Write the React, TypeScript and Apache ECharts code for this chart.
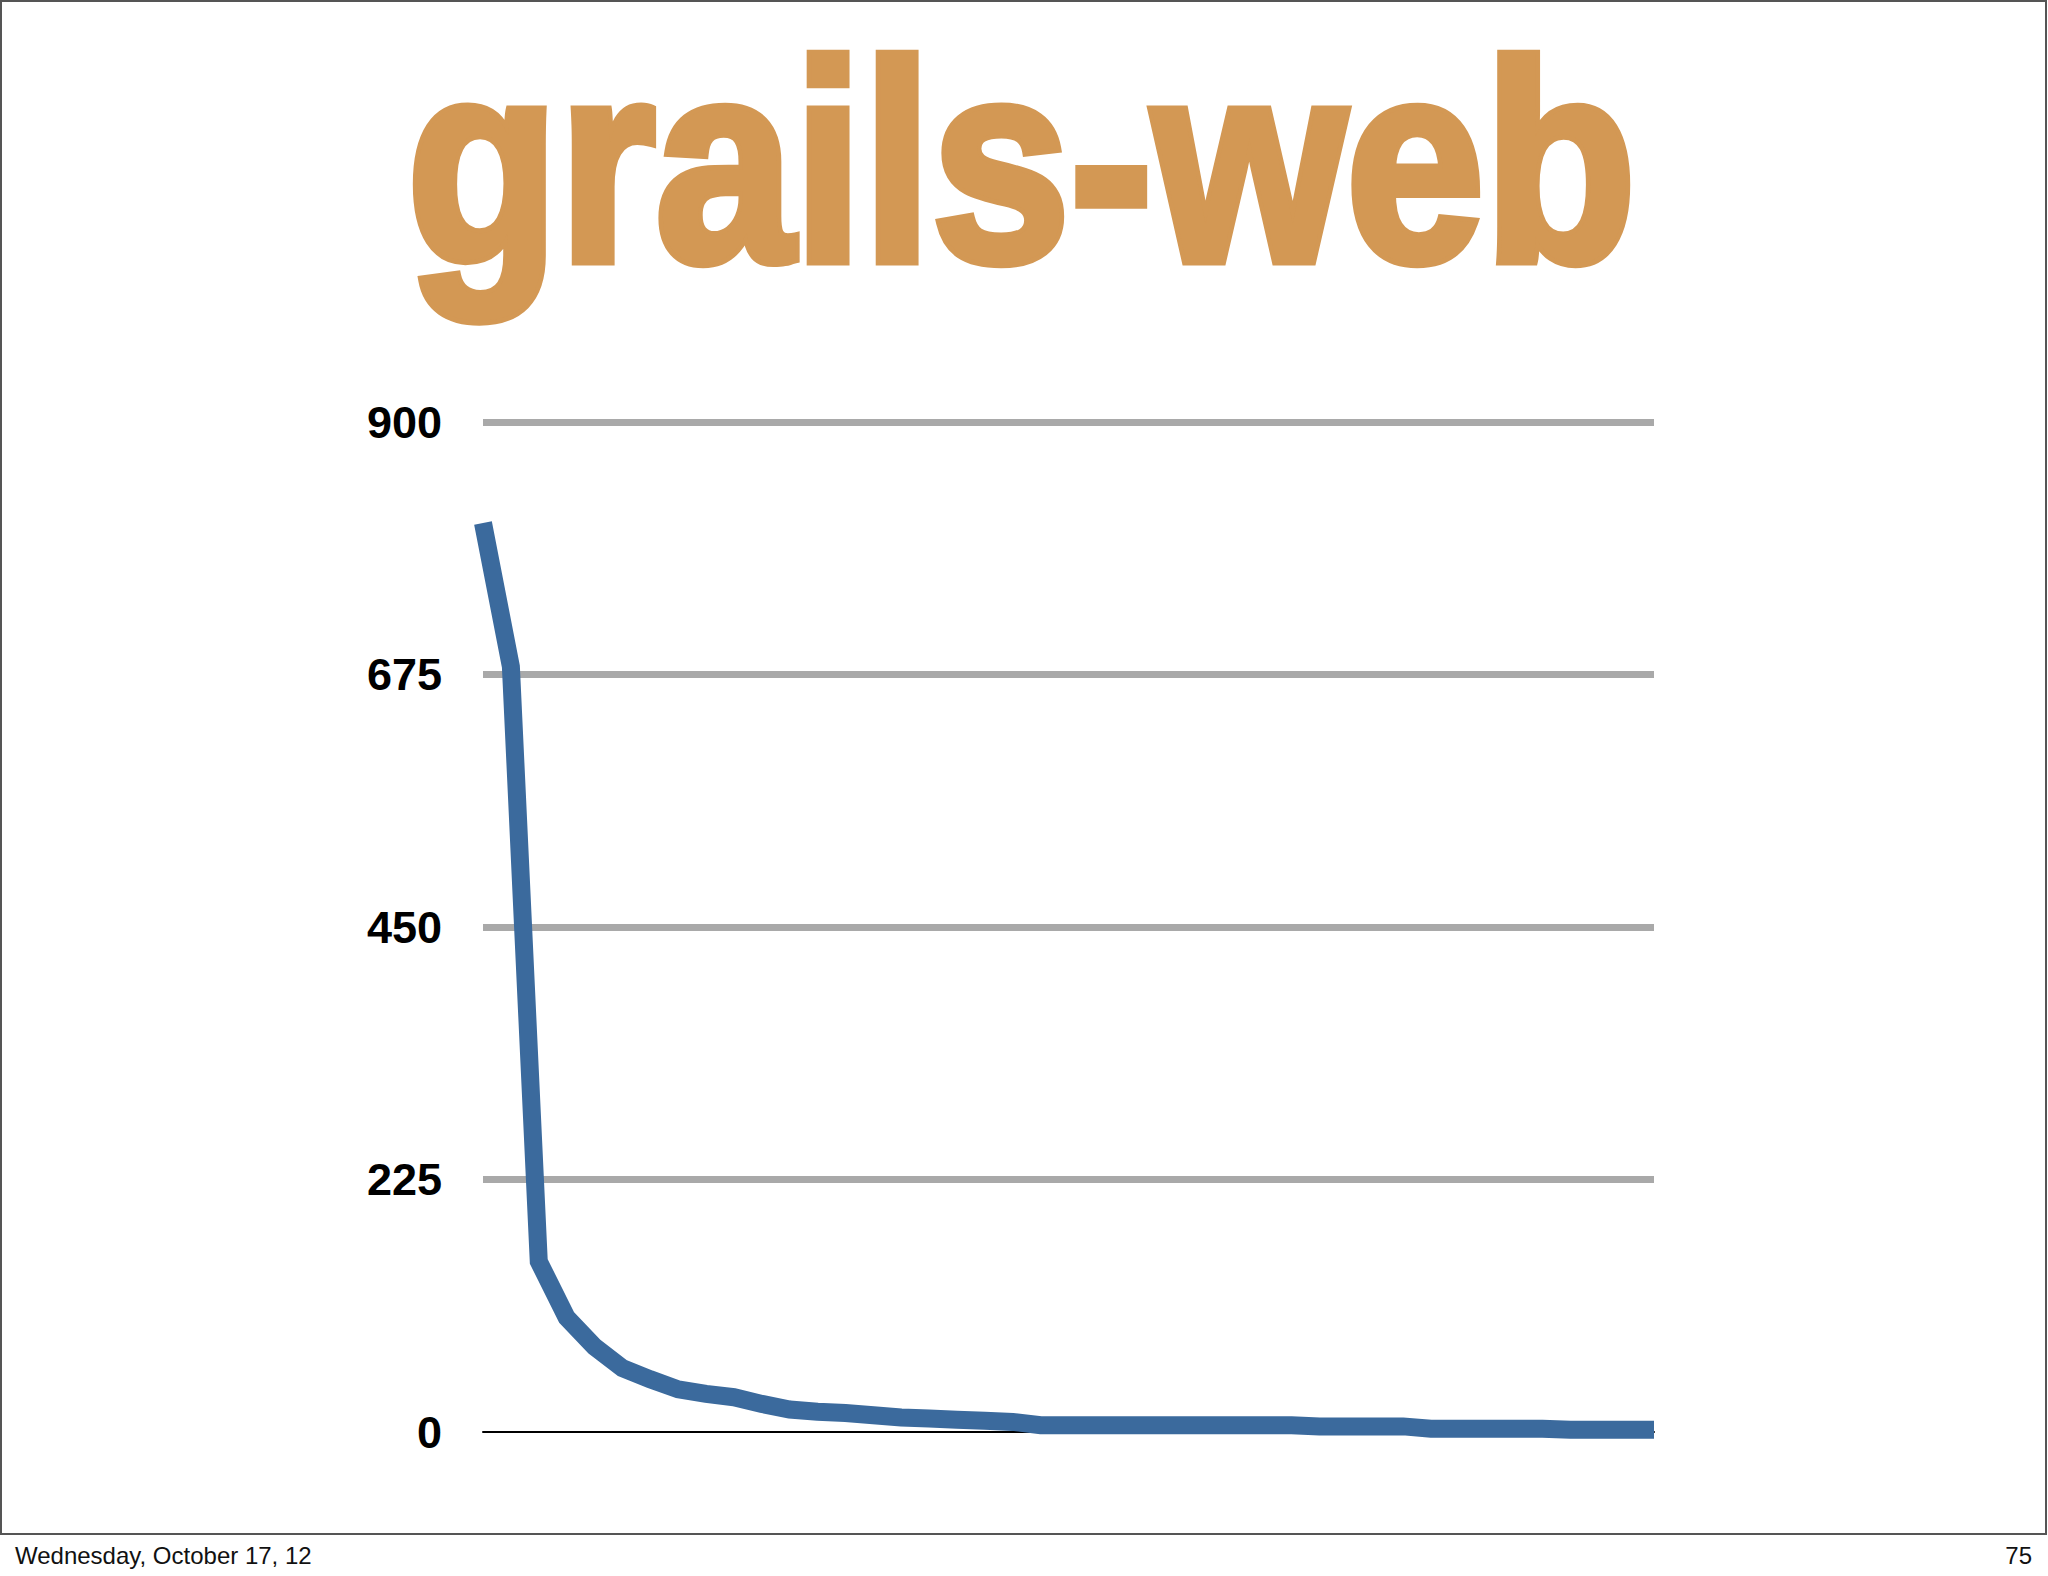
import React, { useEffect, useRef } from "react";
import * as echarts from "echarts";

// slide data: one point per module, sorted by size
const categories = [
  "1", "2", "3", "4", "5", "6", "7", "8", "9", "10",
  "11", "12", "13", "14", "15", "16", "17", "18", "19", "20",
  "21", "22", "23", "24", "25", "26", "27", "28", "29", "30",
  "31", "32", "33", "34", "35", "36", "37", "38", "39", "40",
  "41", "42", "43",
];
const values = [
  810, 682, 152, 102, 76, 57, 47, 38, 34, 31,
  25, 20, 18, 17, 15, 13, 12, 11, 10, 9,
  6, 6, 6, 6, 6, 6, 6, 6, 6, 6,
  5, 5, 5, 5, 3, 3, 3, 3, 3, 2,
  2, 2, 2,
];
const yTicks = [0, 225, 450, 675, 900];

const title = "grails-web";
const footerDate = "Wednesday, October 17, 12";
const pageNumber = "75";

const App = () => {
  const chartRef = useRef<HTMLDivElement | null>(null);

  useEffect(() => {
    if (!chartRef.current) return;
    const chart = echarts.init(chartRef.current, null, { renderer: "svg" });

    const options = {
      animation: false,
      backgroundColor: "#ffffff",
      grid: { left: 483, right: 394, top: 422, bottom: 144 },
      xAxis: {
        type: "category",
        data: categories,
        boundaryGap: false,
        axisLine: { show: true, lineStyle: { color: "#000000", width: 2 } },
        axisTick: { show: false },
        axisLabel: { show: false },
        splitLine: { show: false },
      },
      yAxis: {
        type: "value",
        min: yTicks[0],
        max: yTicks[yTicks.length - 1],
        interval: yTicks[1] - yTicks[0],
        axisLine: { show: false },
        axisTick: { show: false },
        axisLabel: {
          margin: 41,
          color: "#000000",
          fontSize: 45,
          fontWeight: "bold",
          fontFamily: "'Liberation Sans', Arial, sans-serif",
        },
        splitLine: {
          show: true,
          showMinLine: false,
          lineStyle: { color: "#a9a9a9", width: 7 },
        },
      },
      series: [
        {
          type: "line",
          data: values,
          symbol: "none",
          z: 5,
          lineStyle: { color: "#3b6a9d", width: 18, cap: "butt", join: "miter" },
        },
      ],
      graphic: [
        {
          type: "rect",
          shape: { x: 1, y: 1, width: 2045, height: 1533 },
          style: { fill: "none", stroke: "#555555", lineWidth: 2 },
          silent: true,
        },
        {
          type: "text",
          x: 407,
          y: 162,
          scaleX: 0.875,
          style: {
            text: title,
            fontSize: 284,
            fontWeight: "bold",
            fontFamily: "'Liberation Sans', Arial, sans-serif",
            fill: "#d39854",
            stroke: "#d39854",
            lineWidth: 10,
            align: "left",
            verticalAlign: "middle",
            shadowColor: "rgba(220, 130, 40, 0.45)",
            shadowBlur: 12,
            shadowOffsetX: 3,
            shadowOffsetY: 6,
          },
        },
        {
          type: "text",
          x: 15,
          y: 1555,
          style: {
            text: footerDate,
            fontSize: 24,
            fontFamily: "'Liberation Sans', Arial, sans-serif",
            fill: "#111111",
            align: "left",
            verticalAlign: "middle",
          },
        },
        {
          type: "text",
          x: 2032,
          y: 1555,
          style: {
            text: pageNumber,
            fontSize: 24,
            fontFamily: "'Liberation Sans', Arial, sans-serif",
            fill: "#111111",
            align: "right",
            verticalAlign: "middle",
          },
        },
      ],
    };

    chart.setOption(options);
    return () => {
      chart.dispose();
    };
  }, []);

  return (
    <div
      ref={chartRef}
      style={{ position: "fixed", left: 0, top: 0, width: "2048px", height: "1576px" }}
    ></div>
  );
};

export default App;
